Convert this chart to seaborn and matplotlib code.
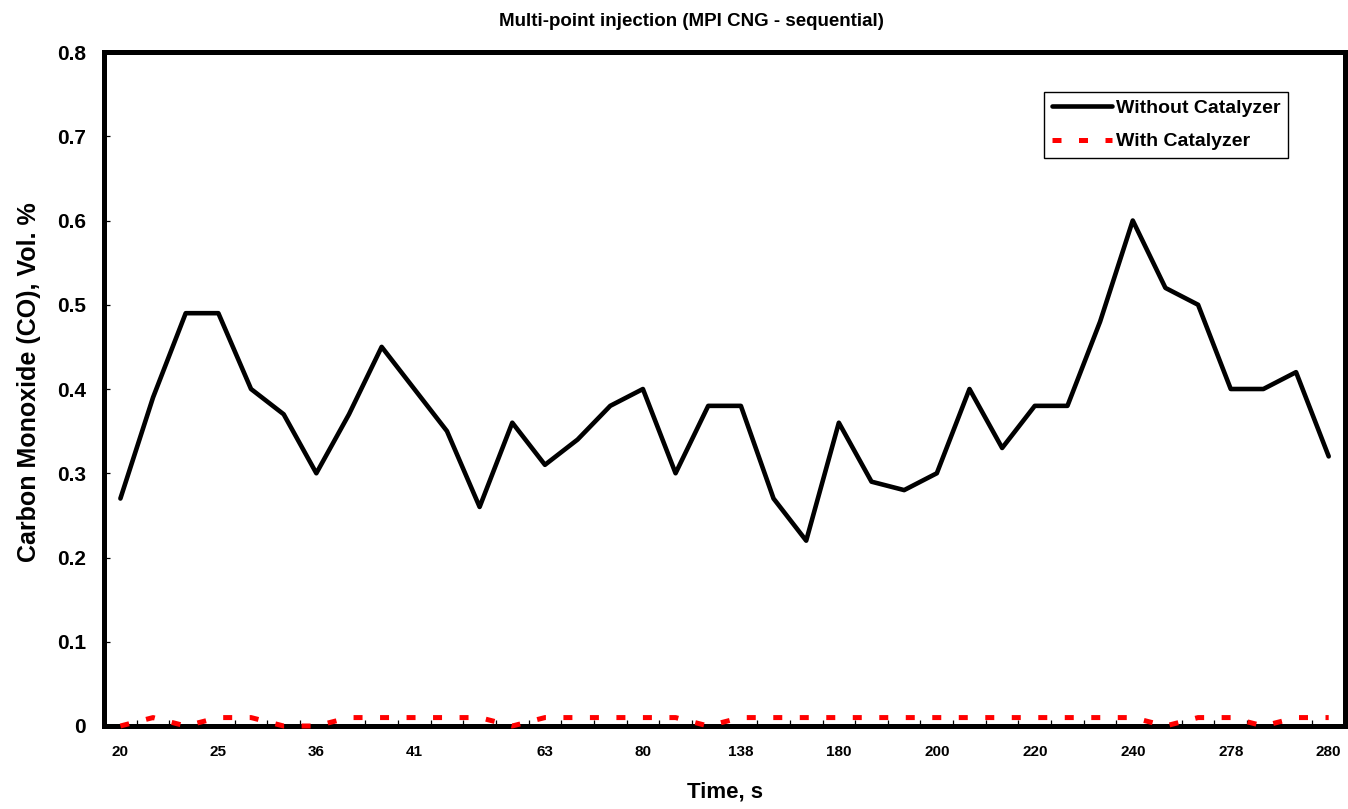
"""
CO emissions with and without catalyzer, MPI CNG sequential injection.
"""
import matplotlib
matplotlib.use('Agg')
import matplotlib.pyplot as plt
from matplotlib.ticker import FixedLocator, NullFormatter
import seaborn as sns
import numpy as np
import pandas as pd

# data (38 samples)
time_labels = ['20', '', '', '25', '', '', '36', '', '', '41', '', '', '', '63', '', '',
               '80', '', '', '138', '', '', '180', '', '', '200', '', '', '220', '', '',
               '240', '', '', '278', '', '', '280']
co_without = [0.27, 0.39, 0.49, 0.49, 0.40, 0.37, 0.30, 0.37, 0.45, 0.40, 0.35, 0.26, 0.36,
              0.31, 0.34, 0.38, 0.40, 0.30, 0.38, 0.38, 0.27, 0.22, 0.36, 0.29, 0.28, 0.30,
              0.40, 0.33, 0.38, 0.38, 0.48, 0.60, 0.52, 0.50, 0.40, 0.40, 0.42, 0.32]
co_with = [0.00, 0.01, 0.00, 0.01, 0.01, 0.00, 0.00, 0.01, 0.01, 0.01, 0.01, 0.01, 0.00,
           0.01, 0.01, 0.01, 0.01, 0.01, 0.00, 0.01, 0.01, 0.01, 0.01, 0.01, 0.01, 0.01,
           0.01, 0.01, 0.01, 0.01, 0.01, 0.01, 0.00, 0.01, 0.01, 0.00, 0.01, 0.01]
series_names = ['Without Catalyzer', 'With Catalyzer']

sample = np.arange(len(time_labels))
df_without = pd.DataFrame({'sample': sample, 'co': co_without})
df_with = pd.DataFrame({'sample': sample, 'co': co_with})

sns.set_theme(style='white')
plt.rcParams['font.family'] = ['Liberation Sans', 'DejaVu Sans']
plt.rcParams['font.weight'] = 'bold'
plt.rcParams['text.color'] = 'black'
plt.rcParams['axes.labelcolor'] = 'black'
plt.rcParams['xtick.color'] = 'black'
plt.rcParams['ytick.color'] = 'black'

fig = plt.figure(figsize=(13.48, 8.09), dpi=100)
ax = fig.add_axes([0.0772, 0.1026, 0.9206, 0.8331])

sns.lineplot(data=df_without, x='sample', y='co', ax=ax, color='black', lw=3.3,
             label=series_names[0], zorder=3)
sns.lineplot(data=df_with, x='sample', y='co', ax=ax, color='red', lw=3.6,
             dashes=False, label=series_names[1], zorder=4)
red = ax.get_lines()[1]
red.set_dashes((1.8, 3.5))
red.set_dash_capstyle('butt')
red.set_clip_on(False)

ax.set_xlim(-0.5, len(time_labels) - 0.5)
ax.set_ylim(0, 0.8)
ax.set_yticks(np.arange(0, 0.81, 0.1))
ax.set_yticklabels(['0'] + [f'{v:.1f}' for v in np.arange(0.1, 0.81, 0.1)])

label_pos = [i for i, t in enumerate(time_labels) if t]
ax.set_xticks(label_pos)
ax.set_xticklabels([time_labels[i] for i in label_pos])
ax.xaxis.set_minor_locator(FixedLocator(np.arange(0.5, len(time_labels) - 1, 1.0)))
ax.xaxis.set_minor_formatter(NullFormatter())

ax.tick_params(axis='x', which='major', length=0, pad=14, labelsize=11)
ax.tick_params(axis='x', which='minor', direction='in', length=4, width=0.9,
               color='black', bottom=True)
ax.tick_params(axis='y', which='major', direction='in', length=4, width=0.9,
               color='black', left=True, pad=13, labelsize=15)
for lab in ax.get_xticklabels() + ax.get_yticklabels():
    lab.set_fontweight('bold')
    lab.set_color('black')

for side in ['left', 'right', 'top', 'bottom']:
    ax.spines[side].set_visible(True)
    ax.spines[side].set_color('black')
    ax.spines[side].set_linewidth(3.6)
ax.grid(False)

ax.set_xlabel('Time, s', fontsize=16, fontweight='bold', color='black')
ax.set_ylabel('Carbon Monoxide (CO), Vol. %', fontsize=18, fontweight='bold', color='black')
ax.xaxis.set_label_coords(0.5, -0.082)
ax.yaxis.set_label_coords(-0.051, 0.51)

fig.text(0.513, 1 - 22 / 809, 'Multi-point injection (MPI CNG - sequential)',
         ha='center', va='center', fontsize=13.5, fontweight='bold', color='black')

leg = ax.legend(loc='upper right', bbox_to_anchor=(0.954, 0.941), fontsize=14,
                frameon=True, fancybox=False, framealpha=1, edgecolor='black',
                handlelength=3.1, handletextpad=0.2, borderpad=0.4,
                labelspacing=0.8, borderaxespad=0)
leg.get_frame().set_linewidth(1.0)
for t in leg.get_texts():
    t.set_fontweight('bold')
    t.set_color('black')

fig.savefig('out.png', dpi=100)
plt.close(fig)
